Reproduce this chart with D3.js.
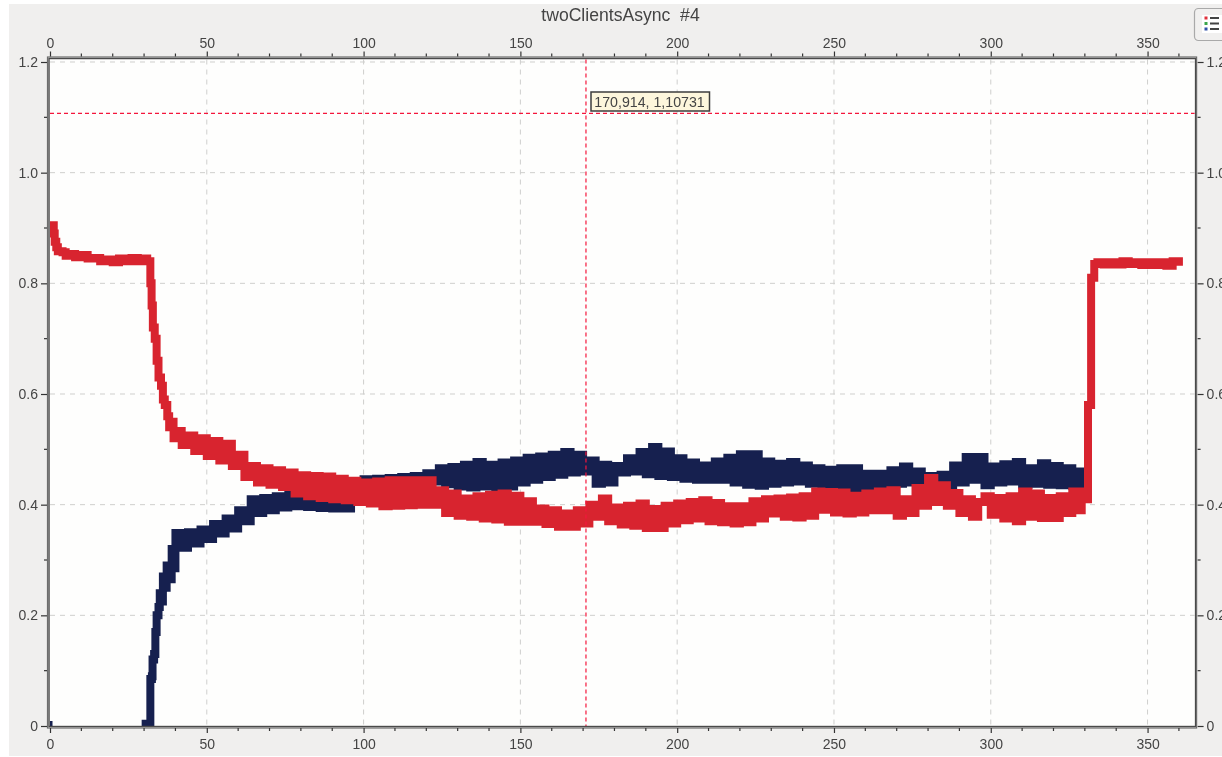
<!DOCTYPE html>
<html><head><meta charset="utf-8">
<script src="https://cdn.jsdelivr.net/npm/d3@7/dist/d3.min.js"></script>
<style>
html,body{margin:0;padding:0;background:#fff;overflow:hidden}
svg{display:block;filter:blur(0.5px)}
text{font-family:"Liberation Sans",Arial,sans-serif;fill:#444}
</style></head><body>
<svg id="c" width="1222" height="757"></svg>
<script>
const chartTitle = "twoClientsAsync  #4";
const xMajorTicks = [0,50,100,150,200,250,300,350];
const yMajorTicks = [0,0.2,0.4,0.6,0.8,1.0,1.2];
const yMinorTicks = [0.1,0.3,0.5,0.7,0.9,1.1];
const xMinorTicks = [10,20,30,40,60,70,80,90,110,120,130,140,160,170,180,190,210,220,230,240,260,270,280,290,310,320,330,340,360];
const cursorX = 170.914, cursorY = 1.10731;
const cursorLabel = "170,914, 1,10731";

const blueTimes = [0,0.8,1,29.5,30.5,31,31.5,32,32.5,32.7,33.2,33.6,34,34.6,35,35.6,36,36.6,37.2,38,38.8,39.4,
40,42,44,46,48,50,52,54,56,58,60,62,64,66,68,70,72,74,76,78,80,82,84,86,88,90,92,94,96,98,
100,102,104,106,108,110,112,114,116,118,120,122,124,126,128,130,132,134,136,138,140,142,144,146,148,150,
152,154,156,158,160,162,164,166,168,170,172,174,176,178,180,182,184,186,188,190,192,194,196,198,200,
202,204,206,208,210,212,214,216,218,220,222,224,226,228,230,232,234,236,238,240,242,244,246,248,250,
252,254,256,258,260,262,264,266,268,270,272,274,276,278,280,282,284,286,288,290,292,294,296,298,300,
302,304,306,308,310,312,314,316,318,320,322,324,326,328,330,331];
const blueValues = [0.002,0.002,null,0,0.004,0.004,0,0.085,0.09,0.12,0.13,0.17,0.2,0.215,0.24,0.225,0.27,0.25,0.29,0.265,0.32,0.285,
.349,.322,.35,.33,.355,.338,.365,.348,.375,.357,.39,.37,.41,.385,.412,.39,.415,.395,.418,.397,.424,.396,.428,.394,.43,.393,.434,.393,.438,.41,
.446,.415,.447,.42,.448,.423,.45,.428,.452,.435,.457,.442,.466,.437,.468,.433,.472,.431,.477,.433,.472,.432,.476,.433,.48,.44,
.485,.445,.487,.45,.49,.454,.495,.458,.49,.46,.48,.438,.472,.44,.47,.458,.484,.46,.495,.455,.504,.452,.496,.45,.484,
.447,.476,.445,.471,.445,.478,.445,.485,.44,.491,.436,.491,.434,.478,.438,.474,.44,.477,.442,.471,.438,.466,.436,.463,.433,
.466,.43,.466,.427,.456,.43,.456,.434,.462,.438,.469,.44,.46,.436,.452,.434,.454,.43,.471,.44,.486,.445,.486,.435,.469,
.44,.473,.442,.477,.436,.466,.438,.475,.436,.47,.435,.466,.434,.46,.434,.434];

const redTimes = [0,1.2,1.5,2,2.5,4,5,6,8,10,12,14,16,18,20,22,24,26,28,30,31,
32,32.4,32.8,33.4,34,34.6,35.4,36,36.6,37.4,38,38.6,39.4,40,
42,44,46,48,50,52,54,56,58,60,62,64,66,68,70,72,74,76,78,80,82,84,86,88,90,92,94,96,98,100,
102,104,106,108,110,112,114,116,118,120,122,124,126,128,130,132,134,136,138,140,142,144,146,148,150,
152,154,156,158,160,162,164,166,168,170,172,174,176,178,180,182,184,186,188,190,192,194,196,198,200,
202,204,206,208,210,212,214,216,218,220,222,224,226,228,230,232,234,236,238,240,242,244,246,248,250,
252,254,256,258,260,262,264,266,268,270,272,274,276,278,280,282,284,286,288,290,292,294,296,298,300,
302,304,306,308,310,312,314,316,318,320,322,324,326,328,329,330,331,332,333,
334,336,338,340,342,344,346,348,350,352,354,356,358,360];
const redValues = [.905,.89,.875,.865,.858,.856,.85,.853,.847,.851,.845,.846,.84,.843,.838,.845,.84,.846,.84,.845,.84,
.8,.76,.72,.7,.66,.63,.615,.59,.58,.56,.54,.55,.52,.533,
.508,.525,.497,.52,.488,.515,.48,.51,.47,.49,.45,.47,.44,.466,.436,.462,.432,.458,.42,.453,.415,.452,.412,.451,.41,.447,.408,.443,.405,.44,
.402,.442,.397,.444,.398,.444,.399,.444,.4,.444,.4,.426,.385,.42,.38,.411,.378,.415,.375,.418,.373,.42,.369,.416,.369,
.406,.369,.393,.365,.39,.36,.384,.36,.39,.366,.4,.378,.411,.37,.395,.364,.398,.362,.402,.358,.392,.358,.398,.366,.402,
.372,.405,.375,.408,.37,.403,.368,.397,.366,.397,.368,.406,.375,.41,.384,.411,.378,.413,.377,.415,.38,.424,.391,.423,.386,
.422,.384,.416,.386,.42,.39,.424,.39,.426,.38,.41,.385,.43,.398,.448,.405,.435,.398,.421,.385,.41,.378,.405,.415,.382,
.412,.375,.415,.37,.424,.378,.42,.376,.412,.376,.415,.385,.424,.39,.424,.41,.58,.81,.835,
.838,.834,.838,.834,.84,.835,.838,.833,.838,.833,.838,.832,.84,.832];

const svg = d3.select("#c");
const x = d3.scaleLinear().domain([0,365]).range([50,1194.6]);
const y = d3.scaleLinear().domain([0,1.2]).range([726,62]);
const L=50,R=1194.6,T=59.5,B=726;

svg.append("rect").attr("x",9).attr("y",4).attr("width",1213).attr("height",752).attr("fill","#f0efee");
svg.append("rect").attr("x",L).attr("y",T).attr("width",R-L).attr("height",B-T).attr("fill","#fefefd");

svg.append("text").attr("x",620.5).attr("y",21).attr("text-anchor","middle")
  .attr("font-size",17.6).style("white-space","pre").text(chartTitle);

// grid
const grid = svg.append("g").attr("stroke","#cfcfcd").attr("stroke-width",1).attr("stroke-dasharray","5 5");
grid.selectAll(".gx").data(xMajorTicks.slice(1)).join("line")
  .attr("x1",d=>x(d)).attr("x2",d=>x(d)).attr("y1",T).attr("y2",B);
grid.selectAll(".gy").data(yMajorTicks.slice(1)).join("line")
  .attr("x1",L).attr("x2",R).attr("y1",d=>y(d)).attr("y2",d=>y(d));

// series
svg.append("clipPath").attr("id","pc").append("rect").attr("x",L).attr("y",T).attr("width",R-L).attr("height",B-T);
const plot = svg.append("g").attr("clip-path","url(#pc)");
const line = (times)=>d3.line().defined(d=>d!==null).x((d,i)=>x(times[i])).y(d=>y(d)).curve(d3.curveStepAfter);
plot.append("path").attr("d",line(blueTimes)(blueValues)).attr("fill","none").attr("stroke","#16204f")
  .attr("stroke-width",8).attr("stroke-linejoin","miter");
plot.append("path").attr("d",line(redTimes)(redValues)).attr("fill","none").attr("stroke","#d8242f")
  .attr("stroke-width",8).attr("stroke-linejoin","miter");

// cursor
const cur = svg.append("g").attr("stroke","#f4163c").attr("stroke-width",1.2).attr("stroke-dasharray","4 3");
cur.append("line").attr("x1",x(cursorX)).attr("x2",x(cursorX)).attr("y1",T).attr("y2",B);
cur.append("line").attr("x1",L).attr("x2",R).attr("y1",y(cursorY)).attr("y2",y(cursorY));
svg.append("rect").attr("x",591).attr("y",92).attr("width",118.5).attr("height",19)
  .attr("fill","#fdf6dc").attr("stroke","#3c3c3c").attr("stroke-width",1.5);
svg.append("text").attr("x",649.5).attr("y",106.5).attr("text-anchor","middle").attr("font-size",14.2).text(cursorLabel);

// frame
svg.append("rect").attr("x",L-1).attr("y",T-1).attr("width",R-L+2).attr("height",B-T+1.5)
  .attr("fill","none").attr("stroke","#4a4a4a").attr("stroke-width",1.4);
svg.append("rect").attr("x",L-2.5).attr("y",T-2.5).attr("width",R-L+4.5).attr("height",B-T+4.5)
  .attr("fill","none").attr("stroke","#6d6d6d").attr("stroke-width",1.2);

// axes
function style(g,fs){
  g.select(".domain").remove();
  g.selectAll("text").attr("font-size",fs).attr("fill","#444");
  g.selectAll("line").attr("stroke","#333").attr("stroke-width",1.2);
}
const fmtY = d=> d===0?"0":d3.format(".1f")(d);
const xBot = d3.axisBottom(x).tickValues(xMajorTicks).tickSize(5).tickPadding(6).tickFormat(d3.format("d"));
const xTop = d3.axisTop(x).tickValues(xMajorTicks).tickSize(5).tickPadding(4).tickFormat(d3.format("d"));
const yL = d3.axisLeft(y).tickValues(yMajorTicks).tickSize(6).tickPadding(3).tickFormat(fmtY);
const yR = d3.axisRight(y).tickValues(yMajorTicks).tickSize(6).tickPadding(3).tickFormat(fmtY);
svg.append("g").attr("transform",`translate(0,${B+2})`).call(xBot).call(style,14);
svg.append("g").attr("transform",`translate(0,${T-3})`).call(xTop).call(style,14);
svg.append("g").attr("transform",`translate(${L-3},0)`).call(yL).call(style,14);
svg.append("g").attr("transform",`translate(${R+3},0)`).call(yR).call(style,14);
// minor ticks
const minor = svg.append("g").attr("stroke","#333").attr("stroke-width",1.2);
minor.selectAll(".a").data(xMinorTicks).join("line").attr("x1",d=>x(d)).attr("x2",d=>x(d)).attr("y1",B+2).attr("y2",B+5);
minor.selectAll(".b").data(xMinorTicks).join("line").attr("x1",d=>x(d)).attr("x2",d=>x(d)).attr("y1",T-3).attr("y2",T-6);
minor.selectAll(".c").data(yMinorTicks).join("line").attr("y1",d=>y(d)).attr("y2",d=>y(d)).attr("x1",L-3).attr("x2",L-6);
minor.selectAll(".d").data(yMinorTicks).join("line").attr("y1",d=>y(d)).attr("y2",d=>y(d)).attr("x1",R+3).attr("x2",R+6);

// legend button
const btn = svg.append("g");
btn.append("rect").attr("x",1194.5).attr("y",8.5).attr("width",40).attr("height",32).attr("rx",4)
  .attr("fill","#f1f0ef").attr("stroke","#a9a9a9").attr("stroke-width",1.2);
btn.append("rect").attr("x",1202).attr("y",15).attr("width",20).attr("height",18).attr("fill","#fff");
[["#e0303a",18],["#3aa54a",23.5],["#3050a8",29]].forEach(([c,yy])=>{
  btn.append("rect").attr("x",1204.5).attr("y",yy-1.5).attr("width",3).attr("height",3).attr("fill",c);
  btn.append("rect").attr("x",1210).attr("y",yy-1).attr("width",9).attr("height",2).attr("fill","#444");
});
</script></body></html>
